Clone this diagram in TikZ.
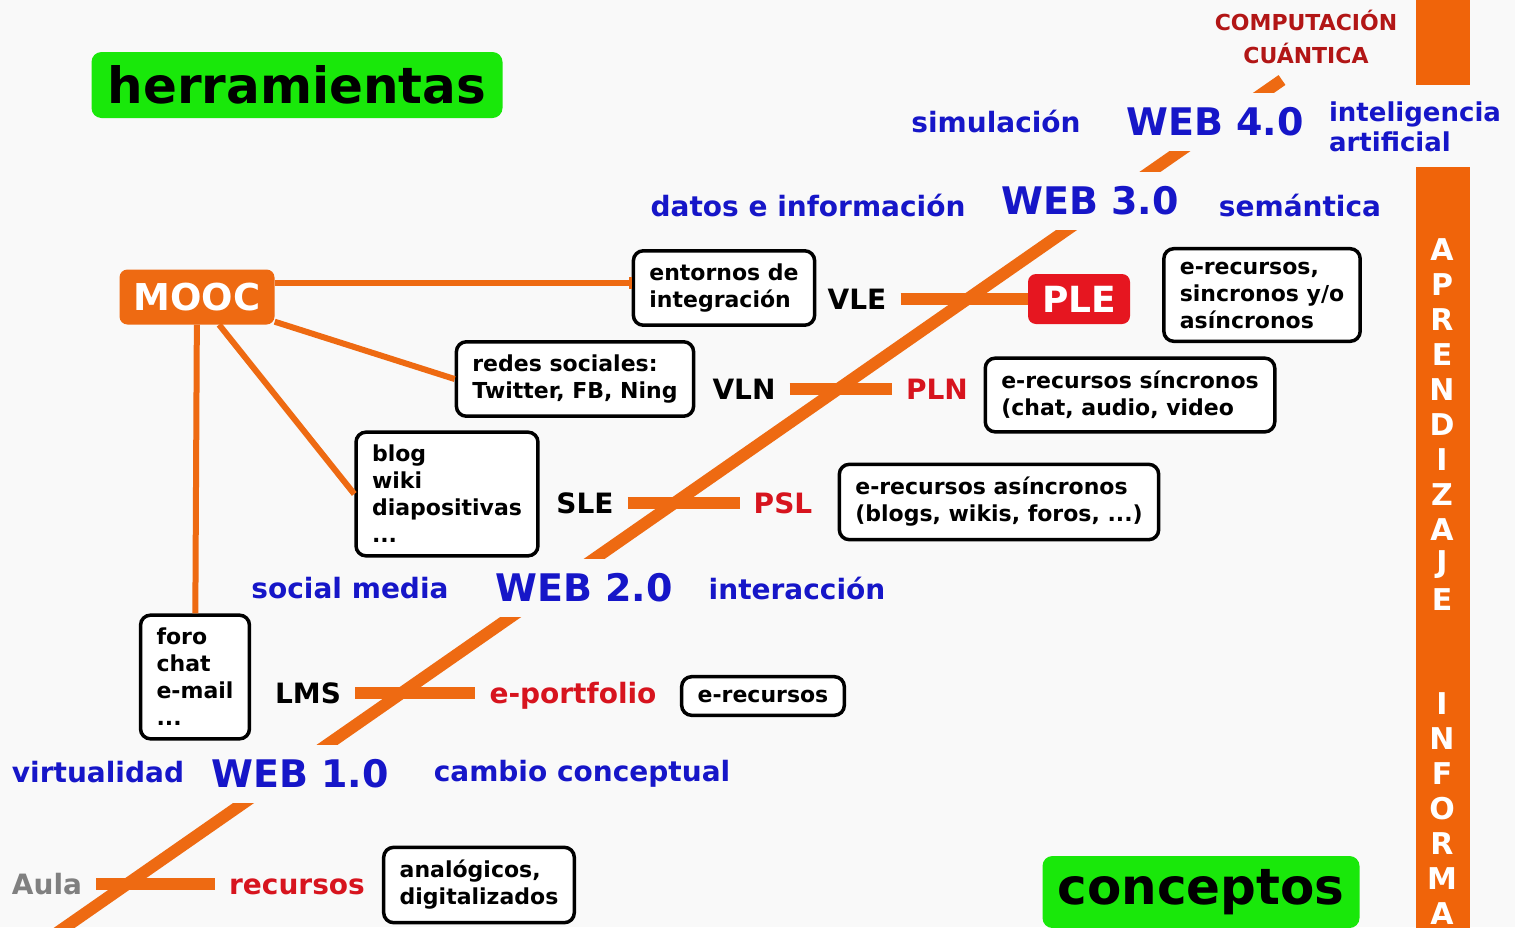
\documentclass[tikz,border=0pt]{standalone}
\usepackage{fontspec}
\setmainfont{DejaVu Sans}
\usetikzlibrary{arrows.meta}

\definecolor{bg}{RGB}{249,249,249}
\definecolor{orng}{RGB}{238,106,18}
\definecolor{barorng}{RGB}{240,100,10}
\definecolor{webblue}{RGB}{22,22,200}
\definecolor{redtxt}{RGB}{215,20,30}
\definecolor{plered}{RGB}{230,22,32}
\definecolor{darkred}{RGB}{178,22,22}
\definecolor{grn}{RGB}{25,232,10}
\definecolor{aulagray}{RGB}{128,128,128}

\begin{document}
\begin{tikzpicture}[
    x=1pt, y=-1pt,
    timeline/.style={line width=12pt, draw=orng},
    crossbar/.style={line width=12pt, draw=orng},
    link/.style={line width=6pt, draw=orng},
    box/.style={draw, line width=3.5pt, rounded corners=10pt, fill=white, align=left, inner xsep=16pt, inner ysep=13pt, font=\fontsize{22}{27}\selectfont\bfseries},
    web/.style={text=webblue, fill=bg, inner xsep=4pt, inner ysep=0pt, minimum height=58pt, font=\fontsize{38}{44}\selectfont\bfseries},
    concept/.style={text=webblue, align=left, font=\fontsize{28}{31}\selectfont\bfseries},
    acro/.style={inner xsep=14pt, text height=20pt, text depth=0pt, font=\fontsize{28}{31}\selectfont\bfseries},
    acrored/.style={acro, text=redtxt},
    title/.style={fill=grn, rounded corners=10pt, font=\fontsize{50}{60}\selectfont\bfseries},
    letter/.style={text=white, font=\fontsize{30}{32}\selectfont\bfseries},
]

\useasboundingbox[fill=bg] (0,0) rectangle (1515,927);

% Orange side bar
\fill[barorng] (1416,0) rectangle (1470,85);
\fill[barorng] (1416,167) rectangle (1470,940);
\foreach \ch [count=\k from 0] in {A,P,R,E,N,D,I,Z,A,J,E}
  \node[letter] (apr\k) at (1442, {250+35*\k}) {\ch};
\foreach \ch [count=\k from 13] in {I,N,F,O,R,M,A}
  \node[letter] (inf\k) at (1442, {249+35*\k}) {\ch};

\node[text=darkred, align=center, font=\fontsize{22}{33}\selectfont\bfseries] (cuantica) at (1306, 37) {COMPUTACIÓN\\CUÁNTICA};

% Titles
\node[title, minimum width=411pt, minimum height=66pt] (herramientas) at (297, 85) {herramientas};
\node[title, minimum width=317pt, minimum height=72pt] (conceptos) at (1201, 892) {conceptos};

% Web timeline
\coordinate (axisstart) at (54, 935);
\coordinate (axisend) at (1282, 80);
\draw[timeline] (axisstart) -- (axisend);

\node[web] (web1) at (300, 774) {WEB 1.0};
\node[web] (web2) at (584, 588) {WEB 2.0};
\node[web] (web3) at (1090, 201) {WEB 3.0};
\node[web] (web4) at (1215, 122) {WEB 4.0};

\node[concept] (virtualidad) at (98, 772) {virtualidad};
\node[concept] (cambio) at (582, 774) {cambio conceptual};
\node[concept] (socialmedia) at (350, 588) {social media};
\node[concept] (interaccion) at (797, 588) {interacción};
\node[concept] (datos) at (808, 205) {datos e información};
\node[concept] (semantica) at (1300, 205) {semántica};
\node[concept] (simulacion) at (996, 121) {simulación};
\node[concept, font=\fontsize{26}{30}\selectfont\bfseries] (ia) at (1415, 127) {inteligencia\\artificial};

% Crossbars
\node[acro, text=aulagray] (aula) at (47, 884) {Aula};
\node[acrored] (recursos) at (297, 884) {recursos};
\node[acro] (lms) at (308, 693) {LMS};
\node[acrored] (portfolio) at (573, 693) {e-portfolio};
\node[acro] (sle) at (585, 503) {SLE};
\node[acrored] (psl) at (783, 503) {PSL};
\node[acro] (vln) at (744, 389) {VLN};
\node[acrored] (pln) at (937, 389) {PLN};
\node[acro] (vle) at (857, 299) {VLE};
\node[fill=plered, text=white, rounded corners=8pt, minimum width=102pt, minimum height=50pt, font=\fontsize{36}{40}\selectfont\bfseries] (ple) at (1079, 299) {PLE};

\draw[crossbar] (aula) -- (recursos);
\draw[crossbar] (lms) -- (portfolio);
\draw[crossbar] (sle) -- (psl);
\draw[crossbar] (vln) -- (pln);
\draw[crossbar] (vle) -- (ple);

% Resources
\node[box] (analogicos) at (479, 885) {analógicos,\\digitalizados};
\node[box] (erecursos) at (763, 696) {e-recursos};
\node[box] (asincronos) at (999, 502) {e-recursos asíncronos\\(blogs, wikis, foros, ...)};
\node[box] (sincronos) at (1130, 395) {e-recursos síncronos\\(chat, audio, video};
\node[box] (sincasinc) at (1262, 295) {e-recursos,\\sincronos y/o\\asíncronos};

% Tools
\node[box] (foro) at (195, 677) {foro\\chat\\e-mail\\...};
\node[box] (blog) at (447, 494) {blog\\wiki\\diapositivas\\...};
\node[box] (redes) at (575, 379) {redes sociales:\\Twitter, FB, Ning};
\node[box] (entornos) at (724, 288) {entornos de\\integración};

% MOOC
\node[fill=orng, text=white, rounded corners=8pt, minimum width=155pt, minimum height=55pt, font=\fontsize{37}{40}\selectfont\bfseries] (mooc) at (197, 297) {MOOC};

\draw[link, -{Bar[width=12pt, line width=3pt]}] (mooc.10) -- (entornos.west |- mooc.10);
\draw[link] (mooc) -- (redes.west);
\draw[link] (mooc) -- (blog.west);
\draw[link] (mooc) -- (foro);

\end{tikzpicture}
\end{document}
